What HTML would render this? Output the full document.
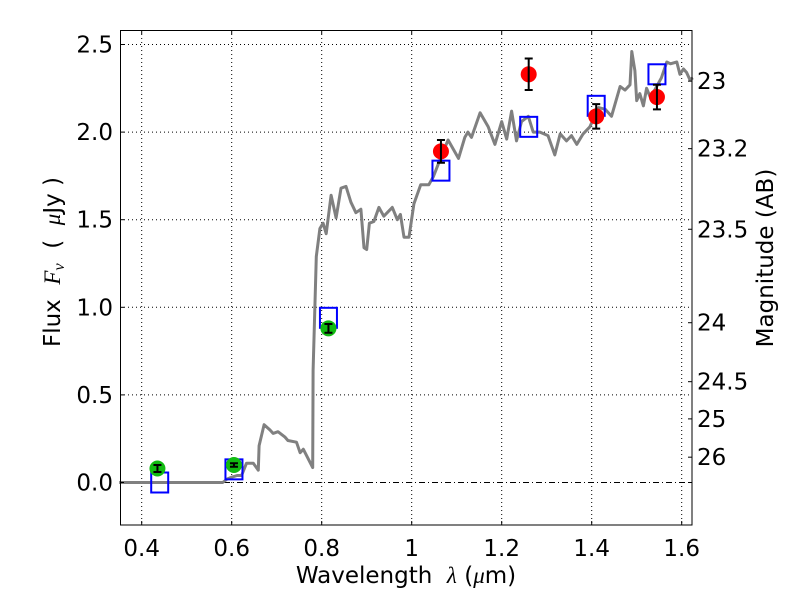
<!DOCTYPE html>
<html><head><meta charset="utf-8"><style>
html,body{margin:0;padding:0;background:#fff;}
svg text{font-family:"DejaVu Sans","Liberation Sans",sans-serif;fill:#000;}
</style></head><body>
<svg id="chart" width="800" height="600" viewBox="0 0 800 600" xmlns="http://www.w3.org/2000/svg">
<rect x="0" y="0" width="800" height="600" fill="#fff"/>
<g id="grid"></g>
<g id="spec"></g>
<g id="pts"></g>
<rect x="120.5" y="30.5" width="571.5" height="494.5" fill="none" stroke="#000" stroke-width="1"/>
<g id="ticks"></g>
<text x="406" y="583" style="font-size:23px" text-anchor="middle" xml:space="preserve">Wavelength  <tspan font-style="italic" font-family="Liberation Serif, serif">λ</tspan> (<tspan font-style="italic" font-family="Liberation Serif, serif">μ</tspan>m)</text>
<text transform="translate(60,262) rotate(-90)" style="font-size:23px" text-anchor="middle" xml:space="preserve">Flux  <tspan font-style="italic" font-family="Liberation Serif, serif">F<tspan style="font-size:16px" dy="4">ν</tspan></tspan><tspan dy="-4">  (  </tspan><tspan font-style="italic" font-family="Liberation Serif, serif">μ</tspan>Jy )</text>
<text transform="translate(773,258) rotate(-90)" style="font-size:23px" text-anchor="middle">Magnitude (AB)</text>
</svg>
<script>
const xTicks=[0.4,0.6,0.8,1.0,1.2,1.4,1.6];
const xTickLabels=["0.4","0.6","0.8","1","1.2","1.4","1.6"];
const yTicks=[0,0.5,1.0,1.5,2.0,2.5];
const yTickLabels=["0.0","0.5","1.0","1.5","2.0","2.5"];
const magTicks=[23,23.2,23.5,24,24.5,25,26];
const magTickLabels=["23","23.2","23.5","24","24.5","25","26"];
const specWave=[0.35,0.58,0.59,0.60,0.612,0.622,0.633,0.648,0.659,0.661,0.672,0.685,0.692,0.703,0.718,0.725,0.744,0.752,0.759,0.780,0.781,0.788,0.796,0.803,0.81,0.821,0.832,0.843,0.854,0.865,0.876,0.887,0.894,0.9,0.906,0.916,0.927,0.938,0.957,0.968,0.975,0.983,0.994,1.005,1.02,1.038,1.048,1.07,1.081,1.104,1.118,1.125,1.133,1.152,1.170,1.185,1.200,1.211,1.222,1.233,1.244,1.259,1.270,1.285,1.303,1.318,1.330,1.344,1.355,1.367,1.381,1.396,1.415,1.430,1.444,1.463,1.474,1.485,1.489,1.496,1.500,1.507,1.515,1.522,1.53,1.54,1.555,1.567,1.575,1.589,1.596,1.604,1.611,1.618,1.625];
const specFlux=[0,0,0.02,0.03,0.04,0.04,0.11,0.11,0.07,0.21,0.33,0.30,0.28,0.29,0.26,0.24,0.23,0.17,0.19,0.085,0.64,1.29,1.45,1.48,1.42,1.64,1.51,1.68,1.69,1.60,1.54,1.56,1.34,1.33,1.48,1.49,1.57,1.52,1.57,1.50,1.53,1.40,1.40,1.59,1.70,1.70,1.745,1.89,1.955,1.85,1.97,2.0,1.97,2.11,2.03,1.93,2.06,1.96,2.12,1.95,2.06,2.09,2.0,2.0,1.98,1.87,1.99,1.95,1.98,1.93,1.99,2.03,2.14,2.13,2.09,2.26,2.24,2.27,2.46,2.35,2.18,2.22,2.15,2.25,2.2,2.24,2.31,2.40,2.39,2.40,2.33,2.36,2.34,2.30,2.31];
const greenWave=[0.435,0.605,0.815];
const greenFlux=[0.08,0.10,0.88];
const greenErr=[0.02,0.01,0.025];
const redWave=[1.065,1.26,1.41,1.545];
const redFlux=[1.89,2.33,2.09,2.20];
const redErr=[0.065,0.09,0.07,0.07];
const modelWave=[0.44,0.605,0.815,1.065,1.26,1.41,1.545];
const modelFlux=[0.0,0.075,0.94,1.78,2.03,2.15,2.33];

const NS="http://www.w3.org/2000/svg";
const X=w=>141.7+(w-0.4)*450;
const Y=f=>482.5-f*175.2;
const magToFlux=m=>Math.pow(10,(23.9-m)/2.5);
function mk(tag,attrs,parent){const e=document.createElementNS(NS,tag);for(const k in attrs)e.setAttribute(k,attrs[k]);parent.appendChild(e);return e;}
const grid=document.getElementById('grid'),ticks=document.getElementById('ticks'),spec=document.getElementById('spec'),pts=document.getElementById('pts');
xTicks.forEach((t,i)=>{
  const x=X(t);
  const g=mk('line',{x1:x,x2:x,y1:30,y2:525,stroke:'#000','stroke-width':1,'stroke-dasharray':'1,3'},grid);
  
  
  const a=mk('line',{x1:x,x2:x,y1:525,y2:521,stroke:'#000'},ticks);
  
  
  const b=mk('line',{x1:x,x2:x,y1:30,y2:34,stroke:'#000'},ticks);
  
  
  const l=mk('text',{x:x,y:556,style:'font-size:23px','text-anchor':'middle'},ticks);l.textContent=xTickLabels[i];
  
  
});
yTicks.forEach((t,i)=>{
  const y=Y(t);
  const g=mk('line',{x1:120,x2:692,y1:y,y2:y,stroke:'#000','stroke-width':1,'stroke-dasharray':t===0?'6,3,1,3':'1,3'},grid);
  
  
  const a=mk('line',{x1:120,x2:124,y1:y,y2:y,stroke:'#000'},ticks);
  
  
  const l=mk('text',{x:113,y:y+8,style:'font-size:23px','text-anchor':'end'},ticks);l.textContent=yTickLabels[i];
  
  
});
magTicks.forEach((m,i)=>{
  const y=Y(magToFlux(m));
  const a=mk('line',{x1:692,x2:688,y1:y,y2:y,stroke:'#000'},ticks);
  
  
  const l=mk('text',{x:697,y:y+8,style:'font-size:23px'},ticks);l.textContent=magTickLabels[i];
  
  
});
const zt=mk('line',{x1:692,x2:688,y1:Y(0),y2:Y(0),stroke:'#000'},ticks);


const d=specWave.map((w,i)=>(i?'L':'M')+X(w).toFixed(1)+','+Y(specFlux[i]).toFixed(1)).join(' ');
const sp=mk('path',{d:d,fill:'none',stroke:'#808080','stroke-width':3,'stroke-linejoin':'round'},spec);


modelWave.forEach((w,i)=>{
  const r=mk('rect',{x:X(w)-8.5,y:Y(modelFlux[i])-10,width:17,height:20,fill:'none',stroke:'#0000ff','stroke-width':2},pts);
  
  
});
function pt(w,f,e,col,name){
  const c=mk('circle',{cx:X(w),cy:Y(f),r:8,fill:col},pts);
  
  
  const x=X(w),y1=Y(f+e),y2=Y(f-e);
  const eb=mk('path',{d:`M${x},${y1}V${y2}M${x-4},${y1}H${x+4}M${x-4},${y2}H${x+4}`,stroke:'#000','stroke-width':2,fill:'none'},pts);
  
  
}
greenWave.forEach((w,i)=>pt(w,greenFlux[i],greenErr[i],'#11bb11','ground-photometry-point'));
redWave.forEach((w,i)=>pt(w,redFlux[i],redErr[i],'#ff0000','nir-photometry-point'));
</script>
</body></html>
